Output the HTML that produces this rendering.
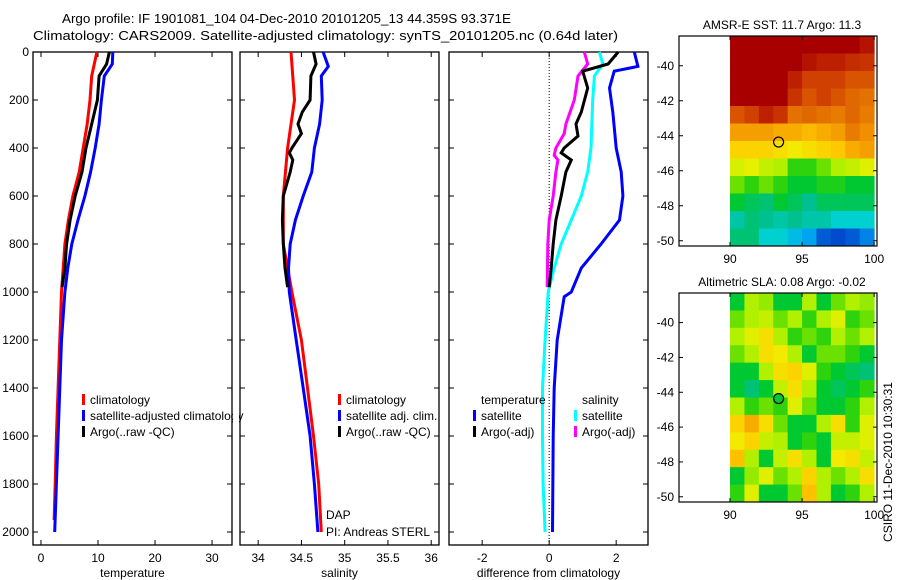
<!DOCTYPE html>
<html><head><meta charset="utf-8">
<style>
html,body{margin:0;padding:0;background:#fff;width:900px;height:580px;overflow:hidden}
svg text{font-family:"Liberation Sans",sans-serif;fill:#000}
</style></head>
<body>
<svg id="fig" width="900" height="580" viewBox="0 0 900 580" xmlns="http://www.w3.org/2000/svg">
<text x="62" y="23" font-size="13" textLength="449" lengthAdjust="spacingAndGlyphs">Argo profile: IF 1901081_104 04-Dec-2010 20101205_13 44.359S 93.371E</text>
<text x="33" y="40" font-size="13" textLength="585" lengthAdjust="spacingAndGlyphs">Climatology: CARS2009. Satellite-adjusted climatology: synTS_20101205.nc (0.64d later)</text>
<text x="782" y="29" font-size="12" text-anchor="middle">AMSR-E SST: 11.7 Argo: 11.3</text>
<text x="782" y="286" font-size="12" text-anchor="middle">Altimetric SLA: 0.08 Argo: -0.02</text>
<text transform="translate(892,462) rotate(-90)" font-size="12" text-anchor="middle">CSIRO 11-Dec-2010 10:30:31</text>
<text x="326" y="519" font-size="12">DAP</text>
<text x="326" y="536" font-size="12">PI: Andreas STERL</text>
</svg>
<script>
// ---- profile data ----
const depthsTClim=[0,100,200,300,400,500,600,700,800,900,1000,1200,1400,1600,1800,1950];
const tempClim=[9.8,8.9,8.6,8.1,7.4,6.7,5.6,4.8,4.2,3.9,3.6,3.3,3.0,2.7,2.5,2.3];
const depthsTSat=[0,50,100,200,300,400,500,600,700,800,900,1000,1200,1400,1600,1800,2000];
const tempSat=[12.6,12.5,11.1,10.6,10.2,9.5,8.7,7.7,6.5,5.4,4.7,4.2,3.6,3.3,3.0,2.7,2.4];
const depthsTArgo=[0,50,100,200,300,400,500,600,700,800,900,980];
const tempArgo=[12,11.5,10.2,9.9,8.9,7.9,7.2,6.0,5.1,4.5,4.2,3.7];

const depthsSClim=[0,200,400,600,800,1000,1200,1400,1600,1800,2000];
const salClim=[34.38,34.42,34.34,34.29,34.29,34.39,34.50,34.57,34.64,34.70,34.73];
const depthsSSat=[0,60,100,200,300,400,500,600,700,800,900,1000,1200,1400,1600,1800,2000];
const salSat=[34.75,34.81,34.73,34.74,34.71,34.65,34.62,34.52,34.43,34.37,34.35,34.36,34.44,34.52,34.60,34.65,34.69];
const depthsSArgo=[0,50,100,200,250,300,340,400,420,450,500,600,700,800,900,980];
const salArgo=[34.64,34.67,34.61,34.60,34.51,34.46,34.50,34.39,34.36,34.40,34.37,34.29,34.28,34.29,34.31,34.34];

const depthsDTSat=[0,60,80,150,250,400,500,600,700,800,900,1000,1020,1200,1400,1600,2000];
const diffTSat=[2.54,2.65,1.94,1.8,1.9,2.0,2.15,2.2,2.1,1.55,0.96,0.66,0.45,0.24,0.15,0.12,0.1];
const depthsDSSat=[0,50,100,200,400,500,600,700,800,900,1000,1200,1400,1600,1800,2000];
const diffSSat=[1.5,1.6,1.35,1.3,1.25,1.15,0.96,0.66,0.36,0.15,-0.03,-0.12,-0.2,-0.2,-0.18,-0.12];
const depthsDTArgo=[0,50,80,150,250,300,350,400,420,450,500,600,700,800,900,980];
const diffTArgo=[2.06,1.76,1.0,1.15,0.96,0.8,0.86,0.45,0.36,0.66,0.5,0.36,0.2,0.12,0.06,0];
const depthsDSArgo=[0,50,100,200,300,340,400,430,450,500,600,700,800,980];
const diffSArgo=[1.05,1.15,0.86,0.75,0.5,0.45,0.2,0.15,0.26,0.2,0.12,0,-0.04,-0.06];

const depthTicks=[0,200,400,600,800,1000,1200,1400,1600,1800,2000];
const tempTicks=[0,10,20,30];
const salTicks=[34,34.5,35,35.5,36];
const salTickLabels=["34","34.5","35","35.5","36"];
const diffTicks=[-2,0,2];

// ---- map data (rows: lat -38.3 -> -50.3 by 1 deg, cols: lon 90 -> 100 by 1 deg) ----
const sstGrid=[
[1,1,1,1,1,1,1,1,1,0.97],
[1,1,1,1,1,0.97,0.95,0.95,0.93,0.92],
[1,1,1,1,0.95,0.9,0.9,0.9,0.88,0.88],
[1,1,1,1,0.92,0.88,0.9,0.88,0.86,0.85],
[0.88,0.9,0.95,0.92,0.85,0.86,0.85,0.84,0.86,0.84],
[0.8,0.8,0.8,0.78,0.78,0.76,0.78,0.8,0.84,0.82],
[0.72,0.72,0.72,0.7,0.68,0.7,0.72,0.74,0.78,0.8],
[0.64,0.66,0.62,0.6,0.5,0.5,0.55,0.6,0.62,0.65],
[0.55,0.5,0.55,0.5,0.45,0.45,0.48,0.48,0.45,0.45],
[0.45,0.42,0.4,0.45,0.42,0.38,0.42,0.42,0.42,0.42],
[0.35,0.4,0.38,0.35,0.38,0.35,0.35,0.3,0.3,0.3],
[0.4,0.4,0.3,0.3,0.25,0.2,0.08,0.05,0.08,0.15]];
const slaGrid=[
[0.45,0.6,0.58,0.45,0.45,0.6,0.45,0.55,0.6,0.58],
[0.55,0.6,0.62,0.55,0.6,0.5,0.6,0.65,0.5,0.55],
[0.6,0.65,0.7,0.6,0.5,0.55,0.5,0.6,0.55,0.6],
[0.55,0.6,0.7,0.68,0.6,0.45,0.55,0.55,0.5,0.45],
[0.45,0.45,0.6,0.7,0.72,0.65,0.5,0.45,0.42,0.4],
[0.45,0.4,0.45,0.62,0.7,0.6,0.45,0.42,0.45,0.5],
[0.6,0.5,0.55,0.5,0.65,0.55,0.45,0.45,0.5,0.6],
[0.72,0.78,0.7,0.55,0.45,0.45,0.6,0.7,0.5,0.65],
[0.68,0.72,0.62,0.6,0.45,0.5,0.45,0.62,0.62,0.65],
[0.75,0.6,0.45,0.62,0.7,0.6,0.45,0.68,0.7,0.62],
[0.45,0.58,0.65,0.55,0.6,0.72,0.6,0.55,0.6,0.7],
[0.5,0.65,0.45,0.45,0.55,0.75,0.6,0.45,0.5,0.6]];
const gridLon0=90, gridLat0=-38.3, gridStep=1;
const latTicks=[-40,-42,-44,-46,-48,-50];
const lonTicks=[90,95,100];
const argoLon=93.37, argoLat=-44.36;
const sstArgoVal=0.74, slaArgoVal=0.45;

const NS="http://www.w3.org/2000/svg";
const svg=document.getElementById('fig');
function mk(tag,attrs,parent){const e=document.createElementNS(NS,tag);for(const k in attrs)e.setAttribute(k,attrs[k]);(parent||svg).appendChild(e);return e;}

const yTop=52, yBot=545;
function yD(d){return 52+d*0.24;}

const panels=[
 {name:'temperature',x0:33,x1:232,vmin:-1.4,vmax:33.5,ticks:tempTicks,labels:tempTicks.map(String),xlabel:'temperature'},
 {name:'salinity',x0:240,x1:439,vmin:33.79,vmax:36.09,ticks:salTicks,labels:salTickLabels,xlabel:'salinity'},
 {name:'difference',x0:449,x1:648,vmin:-2.99,vmax:2.95,ticks:diffTicks,labels:diffTicks.map(String),xlabel:'difference from climatology'}];
function xf(p){return v=>p.x0+(v-p.vmin)/(p.vmax-p.vmin)*(p.x1-p.x0);}

panels.forEach((p,i)=>{
  const g=mk('g',{});
  
  
  const fr=mk('rect',{x:p.x0,y:yTop,width:p.x1-p.x0,height:yBot-yTop,fill:'none',stroke:'#000','stroke-width':1.3},g);
  
  
  const X=xf(p);
  depthTicks.forEach(d=>{
    const y=yD(d);
    mk('line',{x1:p.x0,x2:p.x0+5,y1:y,y2:y,stroke:'#000'},g);
    mk('line',{x1:p.x1,x2:p.x1-5,y1:y,y2:y,stroke:'#000'},g);
    if(i===0){const t=mk('text',{x:29,y:y+4,'font-size':12,'text-anchor':'end'},g);t.textContent=d;
      
      }
  });
  p.ticks.forEach((v,k)=>{
    const x=X(v);
    mk('line',{x1:x,x2:x,y1:yBot,y2:yBot-5,stroke:'#000'},g);
    mk('line',{x1:x,x2:x,y1:yTop,y2:yTop+5,stroke:'#000'},g);
    const t=mk('text',{x:x,y:562,'font-size':12,'text-anchor':'middle'},g);t.textContent=p.labels[k];
    
    
  });
  const xl=mk('text',{x:(p.x0+p.x1)/2,y:577,'font-size':12,'text-anchor':'middle'},g);xl.textContent=p.xlabel;
  
  
});

function line(p,depths,vals,color,name){
  const X=xf(p);
  const pts=depths.map((d,k)=>X(vals[k]).toFixed(1)+','+yD(d).toFixed(1)).join(' ');
  const e=mk('polyline',{points:pts,fill:'none',stroke:color,'stroke-width':3,'stroke-linejoin':'miter'});
  
  
}
{const X=xf(panels[2]);const z=mk('line',{x1:X(0),x2:X(0),y1:yTop,y2:yBot,stroke:'#000','stroke-dasharray':'1,2'});
 
 }
line(panels[0],depthsTClim,tempClim,'#ff0000','temp-climatology-line');
line(panels[0],depthsTSat,tempSat,'#0000ff','temp-satellite-line');
line(panels[0],depthsTArgo,tempArgo,'#000000','temp-argo-line');
line(panels[1],depthsSClim,salClim,'#ff0000','sal-climatology-line');
line(panels[1],depthsSSat,salSat,'#0000ff','sal-satellite-line');
line(panels[1],depthsSArgo,salArgo,'#000000','sal-argo-line');
line(panels[2],depthsDSSat,diffSSat,'#00ffff','diff-sal-satellite-line');
line(panels[2],depthsDTSat,diffTSat,'#0000ff','diff-temp-satellite-line');
line(panels[2],depthsDSArgo,diffSArgo,'#ff00ff','diff-sal-argo-line');
line(panels[2],depthsDTArgo,diffTArgo,'#000000','diff-temp-argo-line');

function legend(x,y,color,label,name){
  if(color){const r=mk('rect',{x:x,y:y-10,width:3,height:11,fill:color});
    
    }
  const t=mk('text',{x:x+8,y:y,'font-size':12});t.textContent=label;
  
  
}
legend(82,404,'#ff0000','climatology','legend-t-climatology');
legend(82,420,'#0000ff','satellite-adjusted climatology','legend-t-satellite');
legend(82,436,'#000000','Argo(..raw -QC)','legend-t-argo');
legend(338,404,'#ff0000','climatology','legend-s-climatology');
legend(338,420,'#0000ff','satellite adj. clim.','legend-s-satellite');
legend(338,436,'#000000','Argo(..raw -QC)','legend-s-argo');
legend(473,404,null,'temperature','legend-diff-temperature-heading');
legend(473,420,'#0000ff','satellite','legend-diff-temp-satellite');
legend(473,436,'#000000','Argo(-adj)','legend-diff-temp-argo');
legend(574,404,null,'salinity','legend-diff-salinity-heading');
legend(574,420,'#00ffff','satellite','legend-diff-sal-satellite');
legend(574,436,'#ff00ff','Argo(-adj)','legend-diff-sal-argo');
{const c=mk('rect',{x:233,y:405,width:6,height:20,fill:'#fff'});
 
 }

const cmStops=[[0,[0,48,192]],[0.12,[0,112,224]],[0.22,[0,176,240]],[0.3,[0,208,208]],[0.38,[0,192,144]],[0.45,[0,200,48]],[0.52,[64,216,0]],[0.6,[176,240,0]],[0.67,[240,240,0]],[0.74,[255,200,0]],[0.82,[240,144,0]],[0.9,[208,64,0]],[1,[168,0,0]]];
function cmap(v){v=Math.max(0,Math.min(1,v));for(let i=1;i<cmStops.length;i++){if(v<=cmStops[i][0]){const a=cmStops[i-1],b=cmStops[i];const t=(v-a[0])/(b[0]-a[0]);const c=a[1].map((q,k)=>Math.round(q+(b[1][k]-q)*t));return 'rgb('+c.join(',')+')';}}return 'rgb(168,0,0)';}

function drawMap(name,top,bot,grid,argoVal,filled){
  const x0=679,x1=877,lonMin=86.46,lonMax=100.2,latTop=-38.3,latBot=-50.3;
  const X=lon=>x0+(lon-lonMin)/(lonMax-lonMin)*(x1-x0);
  const Y=lat=>top+(lat-latTop)/(latBot-latTop)*(bot-top);
  const g=mk('g',{});
  
  
  grid.forEach((row,r)=>row.forEach((v,c)=>{
    const la=gridLat0-r*gridStep, lo=gridLon0+c*gridStep;
    const xa=X(lo), xb=Math.min(X(lo+gridStep)+0.5,x1), ya=Y(la), yb=Math.min(Y(la-gridStep)+0.5,bot);
    const cell=mk('rect',{x:xa,y:ya,width:xb-xa,height:yb-ya,fill:cmap(v)},g);
    
    
  }));
  const fr=mk('rect',{x:x0,y:top,width:x1-x0,height:bot-top,fill:'none',stroke:'#000','stroke-width':1.2},g);
  
  
  latTicks.forEach(la=>{const y=Y(la);
    mk('line',{x1:x0,x2:x0+4,y1:y,y2:y,stroke:'#000'},g);
    mk('line',{x1:x1,x2:x1-4,y1:y,y2:y,stroke:'#000'},g);
    const t=mk('text',{x:674,y:y+4,'font-size':12,'text-anchor':'end'},g);t.textContent=la;
    
    });
  lonTicks.forEach(lo=>{const x=X(lo);
    mk('line',{x1:x,x2:x,y1:bot,y2:bot-4,stroke:'#000'},g);
    mk('line',{x1:x,x2:x,y1:top,y2:top+4,stroke:'#000'},g);
    const t=mk('text',{x:x,y:bot+17,'font-size':12,'text-anchor':'middle'},g);t.textContent=lo;
    
    });
  const ci=mk('circle',{cx:X(argoLon),cy:Y(argoLat),r:5,fill:filled?cmap(argoVal):'none',stroke:'#000','stroke-width':1.2},g);
  
  
}
drawMap('sst',36,246,sstGrid,sstArgoVal,false);
drawMap('sla',293,502,slaGrid,slaArgoVal,true);
</script>
</body></html>
